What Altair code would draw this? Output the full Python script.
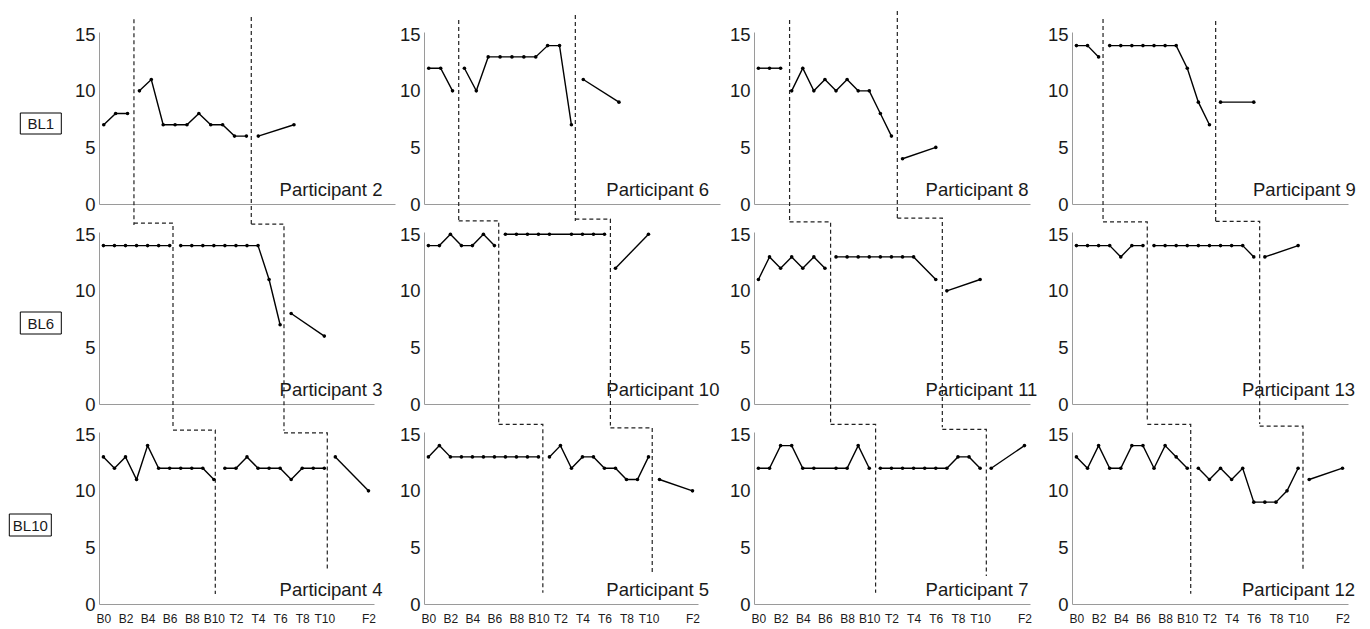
import altair as alt
import pandas as pd

# ---------------- data ----------------
ROW_LABELS = ["BL1", "BL6", "BL10"]
BASELINE_SESSIONS = [3, 7, 11]
PARTICIPANTS = [
    ["Participant 2", "Participant 6", "Participant 8", "Participant 9"],
    ["Participant 3", "Participant 10", "Participant 11", "Participant 13"],
    ["Participant 4", "Participant 5", "Participant 7", "Participant 12"],
]

# None = session without a plotted marker
baseline = {
    "Participant 2": [7, 8, 8],
    "Participant 6": [12, 12, 10],
    "Participant 8": [12, 12, 12],
    "Participant 9": [14, 14, 13],
    "Participant 3": [14, 14, 14, 14, 14, 14, 14],
    "Participant 10": [14, 14, 15, 14, 14, 15, 14],
    "Participant 11": [11, 13, 12, 13, 12, 13, 12],
    "Participant 13": [14, 14, 14, 14, 13, 14, 14],
    "Participant 4": [13, 12, 13, 11, 14, 12, 12, 12, 12, 12, 11],
    "Participant 5": [13, 14, 13, 13, 13, 13, 13, 13, 13, 13, 13],
    "Participant 7": [12, 12, 14, 14, 12, 12, None, 12, 12, 14, 12],
    "Participant 12": [13, 12, 14, 12, 12, 14, 14, 12, 14, 13, 12],
}
treatment = {
    "Participant 2": [10, 11, 7, 7, 7, 8, 7, 7, 6, 6],
    "Participant 6": [12, 10, 13, 13, 13, 13, 13, 14, 14, 7],
    "Participant 8": [10, 12, 10, 11, 10, 11, 10, 10, 8, 6],
    "Participant 9": [14, 14, 14, 14, 14, 14, 14, 12, 9, 7],
    "Participant 3": [14, 14, 14, 14, 14, 14, 14, 14, 11, 7],
    "Participant 10": [15, 15, 15, 15, 15, None, 15, 15, 15, 15],
    "Participant 11": [13, 13, 13, 13, 13, 13, 13, 13, None, 11],
    "Participant 13": [14, 14, 14, 14, 14, 14, 14, 14, 14, 13],
    "Participant 4": [12, 12, 13, 12, 12, 12, 11, 12, 12, 12],
    "Participant 5": [13, 14, 12, 13, 13, 12, 12, 11, 11, 13],
    "Participant 7": [12, 12, 12, 12, 12, 12, 12, 13, 13, 12],
    "Participant 12": [12, 11, 12, 11, 12, 9, 9, 9, 10, 12],
}
followup = {
    "Participant 2": [6, 7],
    "Participant 6": [11, 9],
    "Participant 8": [4, 5],
    "Participant 9": [9, 9],
    "Participant 3": [8, 6],
    "Participant 10": [12, 15],
    "Participant 11": [10, 11],
    "Participant 13": [13, 14],
    "Participant 4": [13, 10],
    "Participant 5": [11, 10],
    "Participant 7": [12, 14],
    "Participant 12": [11, 12],
}
FOLLOWUP_OFFSETS = [1, 4]

X_TICKS = [0, 2, 4, 6, 8, 10, 12, 14, 16, 18, 20, 24]
X_LABELS = ["B0", "B2", "B4", "B6", "B8", "B10", "T2", "T4", "T6", "T8", "T10", "F2"]
Y_TICKS = [0, 5, 10, 15]

# phase-change (dashed) lines, per column, [line1, line2], in session / score units
top_x = [[2.54, 12.41], [2.52, 12.33], [2.81, 12.53], [2.40, 12.56]]
top_y0 = [[16.32, 16.52], [16.25, 16.7], [16.25, 17.05], [16.34, 16.17]]
top_y1 = [[-1.86, -1.94], [-1.65, -1.5], [-1.56, -1.41], [-1.56, -1.71]]
mid_step = [[15.99, 15.9], [16.19, 16.34], [16.1, 16.43], [16.1, 16.14]]
mid_x = [[6.3, 16.35], [6.39, 16.54], [6.51, 16.59], [6.39, 16.53]]
mid_y1 = [[-2.12, -2.36], [-1.62, -1.91], [-1.62, -2.06], [-1.62, -1.77]]
bot_step = [[15.37, 15.13], [15.87, 15.57], [15.87, 15.43], [15.87, 15.72]]
bot_x = [[10.13, 20.27], [10.4, 20.34], [10.57, 20.56], [10.31, 20.44]]
bot_y1 = [[0.88, 3.09], [1.0, 2.77], [1.0, 2.47], [0.91, 3.07]]

# ---------------- layout ----------------
FONT = "Liberation Sans"
TXT = "#1a1a1a"
AX = "#9a9a9a"
XDOM = [-0.4, 24.5]
YDOM = [0, 15.2]
H = 172
AXIS_W = [[296, 296, 276, 276], [275, 274, 276, 276], [275, 274, 276, 276]]
COL_PITCH = [324.3, 329.7, 317.3]
LABEL_X = [[180.6, 182.3, 171.6, 181], [180.6, 182.3, 171.6, 170], [180.6, 182.3, 171.6, 170]]
BOX = [(-78.7, -37.7, 81, 102), (-78.7, -37.7, 80, 102), (-89.7, -47.7, 82, 104)]


def conv(u, w_from, w_to):
    return (u - XDOM[0]) * w_from / w_to + XDOM[0]


def participant_df(name, nb):
    rows = []
    for i, v in enumerate(baseline[name]):
        if v is not None:
            rows.append({"x": i, "y": v, "phase": "A"})
    for i, v in enumerate(treatment[name]):
        if v is not None:
            rows.append({"x": nb + i, "y": v, "phase": "B"})
    last = nb + len(treatment[name]) - 1
    for off, v in zip(FOLLOWUP_OFFSETS, followup[name]):
        rows.append({"x": last + off, "y": v, "phase": "C"})
    return pd.DataFrame(rows)


def phase_df(r, c):
    rows = []
    for k in range(2):
        if r == 0:
            pts = [(top_x[c][k], top_y0[c][k]), (top_x[c][k], top_y1[c][k])]
        elif r == 1:
            x0 = conv(top_x[c][k], AXIS_W[0][c], AXIS_W[1][c])
            pts = [(x0, mid_step[c][k]), (mid_x[c][k], mid_step[c][k]), (mid_x[c][k], mid_y1[c][k])]
        else:
            x0 = conv(mid_x[c][k], AXIS_W[1][c], AXIS_W[2][c])
            pts = [(x0, bot_step[c][k]), (bot_x[c][k], bot_step[c][k]), (bot_x[c][k], bot_y1[c][k])]
        for s, (x, y) in enumerate(pts):
            rows.append({"x": x, "y": y, "line": k, "seq": s})
    return pd.DataFrame(rows)


label_expr = " : ".join(f"datum.value == {v} ? '{l}'" for v, l in zip(X_TICKS, X_LABELS)) + " : ''"
one = pd.DataFrame({"a": [0]})


def panel(r, c):
    name = PARTICIPANTS[r][c]
    w = AXIS_W[r][c]
    view_w = COL_PITCH[c] if c < 3 else w
    xs = alt.Scale(domain=XDOM, range=[0, w], nice=False, zero=False)
    ys = alt.Scale(domain=YDOM, nice=False, zero=False)
    if r == 2:
        xaxis = alt.Axis(values=X_TICKS, labelExpr=label_expr, ticks=False, grid=False, title=None,
                         labelOverlap=False, labelFlush=False, labelFontSize=12, labelPadding=9,
                         domainColor=AX, labelColor=TXT, labelFont=FONT)
    else:
        xaxis = alt.Axis(labels=False, ticks=False, grid=False, title=None, domainColor=AX)
    yaxis = alt.Axis(values=Y_TICKS, ticks=False, grid=False, title=None, domainColor=AX,
                     labelFontSize=18.5, labelPadding=4, labelColor=TXT, labelFont=FONT)
    X = alt.X("x:Q", scale=xs, axis=xaxis)
    Y = alt.Y("y:Q", scale=ys, axis=yaxis)

    df = participant_df(name, BASELINE_SESSIONS[r])
    base = alt.Chart(df)
    line = base.mark_line(color="black", strokeWidth=1.4).encode(X, Y, detail="phase:N")
    pts = base.mark_circle(color="black", size=13, opacity=1).encode(X, Y)
    dash = alt.Chart(phase_df(r, c)).mark_line(color="#222222", strokeWidth=1.2, strokeDash=[4, 3]).encode(
        X, Y, detail="line:N", order="seq:Q")
    txt = alt.Chart(one).mark_text(text=name, align="left", baseline="middle", fontSize=18.5,
                                   font=FONT, color=TXT).encode(x=alt.value(LABEL_X[r][c]), y=alt.value(H - 14))
    layers = [dash, line, pts, txt]
    if c == 0:
        x0, x1, y0, y1 = BOX[r]
        rect = alt.Chart(one).mark_rect(fill="white", stroke="black", strokeWidth=1).encode(
            x=alt.value(x0), x2=alt.value(x1), y=alt.value(y0), y2=alt.value(y1))
        rl = alt.Chart(one).mark_text(text=ROW_LABELS[r], align="center", baseline="middle", fontSize=15,
                                      font=FONT, color=TXT).encode(
            x=alt.value((x0 + x1) / 2), y=alt.value((y0 + y1) / 2 + 0.5))
        layers += [rect, rl]
    return alt.layer(*layers).properties(width=view_w, height=H)


panels = [panel(r, c) for r in range(3) for c in range(4)]
chart = alt.concat(*panels, columns=4, spacing={"row": 28, "column": 0}, bounds="flush").properties(
    padding={"left": 0, "top": 0, "right": 0, "bottom": 0}
).configure_view(stroke=None)

chart.save("out.html", embed_options={"renderer": "svg", "actions": False})
